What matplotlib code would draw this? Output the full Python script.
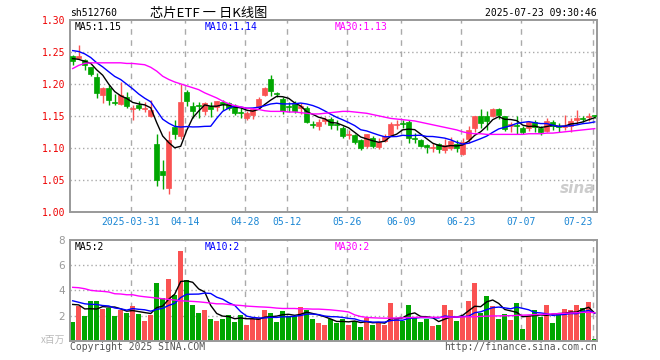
import numpy as np
import pandas as pd
import matplotlib
matplotlib.use("Agg")
import matplotlib.pyplot as plt

W, H = 660, 360

# daily candles, 2025-03-17 .. 2025-07-23 (88 trading days)
opens = [1.243, 1.241, 1.237, 1.226, 1.211, 1.183, 1.193, 1.1715, 1.168, 1.180,
         1.161, 1.1665, 1.161, 1.149, 1.106, 1.064, 1.037, 1.133, 1.119, 1.188,
         1.166, 1.166, 1.157, 1.166, 1.164, 1.171, 1.170, 1.165, 1.1565, 1.146,
         1.1515, 1.164, 1.183, 1.207, 1.186, 1.177, 1.166, 1.168, 1.162, 1.163,
         1.137, 1.1347, 1.142, 1.145, 1.137, 1.1316, 1.120, 1.120, 1.1117, 1.1033,
         1.116, 1.101, 1.1107, 1.120, 1.136, 1.139, 1.141, 1.115, 1.112, 1.1035,
         1.100, 1.1055, 1.096, 1.100, 1.1055, 1.091, 1.113, 1.1306, 1.1495, 1.1495,
         1.1505, 1.160, 1.1495, 1.1348, 1.1348, 1.1317, 1.1306, 1.141, 1.1306, 1.1264,
         1.140, 1.1338, 1.1327, 1.1348, 1.1432, 1.1463, 1.1485, 1.1516]
highs = [1.245, 1.261, 1.2385, 1.227, 1.2175, 1.1955, 1.1975, 1.1835, 1.203, 1.187,
         1.167, 1.1735, 1.171, 1.1755, 1.122, 1.081, 1.127, 1.144, 1.200, 1.190,
         1.172, 1.171, 1.171, 1.171, 1.173, 1.1755, 1.171, 1.168, 1.163, 1.157,
         1.163, 1.179, 1.1945, 1.2145, 1.188, 1.179, 1.1715, 1.1725, 1.170, 1.166,
         1.142, 1.145, 1.148, 1.148, 1.144, 1.1337, 1.1274, 1.121, 1.1138, 1.122,
         1.118, 1.115, 1.122, 1.140, 1.144, 1.144, 1.144, 1.123, 1.114, 1.1065,
         1.1075, 1.1075, 1.113, 1.117, 1.112, 1.115, 1.134, 1.1505, 1.160, 1.157,
         1.163, 1.163, 1.150, 1.140, 1.1495, 1.1338, 1.142, 1.143, 1.1338, 1.1463,
         1.143, 1.139, 1.152, 1.1463, 1.159, 1.1495, 1.1537, 1.152]
lows = [1.230, 1.2385, 1.222, 1.212, 1.178, 1.170, 1.1667, 1.167, 1.167, 1.162,
        1.144, 1.159, 1.156, 1.148, 1.041, 1.036, 1.028, 1.113, 1.114, 1.165,
        1.147, 1.146, 1.1515, 1.148, 1.158, 1.159, 1.159, 1.1515, 1.147, 1.143,
        1.1445, 1.163, 1.181, 1.181, 1.180, 1.1535, 1.1557, 1.1547, 1.1536, 1.139,
        1.1316, 1.1274, 1.1368, 1.130, 1.128, 1.115, 1.1138, 1.1064, 1.097, 1.100,
        1.099, 1.098, 1.1096, 1.119, 1.1296, 1.1317, 1.1075, 1.1075, 1.101, 1.092,
        1.094, 1.092, 1.092, 1.097, 1.094, 1.0887, 1.1075, 1.1243, 1.1306, 1.1285,
        1.1485, 1.1453, 1.1264, 1.1243, 1.121, 1.122, 1.1264, 1.1243, 1.120, 1.1243,
        1.1275, 1.1254, 1.1285, 1.1243, 1.138, 1.141, 1.142, 1.1463]
closes = [1.236, 1.244, 1.229, 1.215, 1.186, 1.194, 1.1745, 1.1705, 1.182, 1.165,
          1.163, 1.163, 1.163, 1.159, 1.049, 1.058, 1.112, 1.122, 1.171, 1.1725,
          1.157, 1.165, 1.170, 1.161, 1.1725, 1.168, 1.1625, 1.1545, 1.155, 1.1545,
          1.160, 1.1767, 1.193, 1.189, 1.184, 1.157, 1.164, 1.157, 1.165, 1.140,
          1.136, 1.141, 1.145, 1.136, 1.136, 1.118, 1.121, 1.1096, 1.100, 1.121,
          1.1033, 1.1096, 1.118, 1.138, 1.138, 1.137, 1.115, 1.114, 1.103, 1.102,
          1.102, 1.098, 1.1045, 1.111, 1.099, 1.1096, 1.1285, 1.1495, 1.139, 1.142,
          1.161, 1.1516, 1.1296, 1.137, 1.1337, 1.1254, 1.141, 1.1327, 1.1254, 1.142,
          1.1348, 1.1327, 1.1347, 1.142, 1.1474, 1.1453, 1.1505, 1.1505]
# volume, millions of shares
volumes = [1.52, 2.72, 2.00, 3.17, 3.17, 2.48, 2.56, 2.00, 2.45, 2.24,
           2.72, 2.16, 1.60, 2.08, 4.56, 3.36, 4.88, 3.60, 7.12, 4.80,
           2.80, 2.24, 2.40, 1.76, 1.60, 1.76, 2.08, 1.52, 2.08, 1.28,
           1.76, 1.84, 2.40, 2.24, 1.52, 2.32, 2.00, 2.00, 2.64, 2.40,
           1.76, 1.44, 1.28, 1.73, 1.44, 1.76, 1.28, 1.60, 1.12, 1.84,
           1.28, 1.44, 1.28, 2.96, 1.84, 1.60, 2.80, 1.84, 1.52, 1.76,
           1.20, 1.28, 2.80, 2.40, 1.60, 2.00, 3.12, 4.56, 2.24, 3.52,
           2.72, 1.76, 2.16, 1.68, 2.96, 0.96, 2.00, 2.40, 1.92, 2.80,
           1.44, 2.24, 2.48, 2.40, 2.80, 2.56, 3.04, 0.16]

# 30-day averages as drawn (their window reaches before the visible range)
ma30_price = [1.224, 1.229, 1.232, 1.233, 1.233, 1.233, 1.233, 1.233, 1.233, 1.232,
              1.232, 1.231, 1.230, 1.226, 1.220, 1.212, 1.207, 1.203, 1.200, 1.197,
              1.194, 1.191, 1.186, 1.182, 1.178, 1.173, 1.169, 1.166, 1.164, 1.162,
              1.161, 1.160, 1.158, 1.157, 1.157, 1.157, 1.156, 1.156, 1.155, 1.154,
              1.153, 1.153, 1.154, 1.155, 1.156, 1.157, 1.157, 1.156, 1.155, 1.154,
              1.152, 1.150, 1.148, 1.146, 1.145, 1.144, 1.143, 1.142, 1.140, 1.138,
              1.136, 1.134, 1.132, 1.130, 1.128, 1.125, 1.123, 1.122, 1.122, 1.121,
              1.121, 1.121, 1.121, 1.121, 1.121, 1.121, 1.122, 1.122, 1.122, 1.123,
              1.123, 1.124, 1.125, 1.126, 1.127, 1.128, 1.129, 1.130]
ma30_vol = [4.24, 4.21, 4.13, 4.00, 3.95, 3.92, 3.87, 3.73, 3.71, 3.65,
            3.65, 3.55, 3.49, 3.44, 3.39, 3.33, 3.28, 3.23, 3.17, 3.15,
            3.12, 3.09, 3.04, 2.99, 2.93, 2.93, 2.88, 2.83, 2.80, 2.75,
            2.72, 2.69, 2.67, 2.64, 2.59, 2.56, 2.56, 2.56, 2.53, 2.53,
            2.51, 2.51, 2.48, 2.45, 2.40, 2.35, 2.28, 2.05, 1.92, 1.85,
            1.82, 1.80, 1.79, 1.79, 1.80, 1.82, 1.84, 1.85, 1.86, 1.86,
            1.86, 1.86, 1.87, 1.88, 1.88, 1.89, 1.90, 1.90, 1.93, 1.95,
            1.97, 1.97, 1.98, 1.99, 2.01, 2.03, 2.05, 2.07, 2.09, 2.11,
            2.13, 2.15, 2.18, 2.20, 2.22, 2.25, 2.26, 2.22]

# days just before the window, estimated from where MA5/MA10 start
prior_close = [1.258, 1.266, 1.272, 1.268, 1.259, 1.250, 1.244, 1.231, 1.237]
prior_vol = [3.9, 3.2, 3.6, 3.3, 3.3, 2.9, 3.6, 3.1, 3.28]

tick_idx = [10, 19, 29, 36, 46, 55, 65, 75, 87]
tick_labels = ['2025-03-31', '04-14', '04-28', '05-12', '05-26',
               '06-09', '06-23', '07-07', '07-23']

RED = '#fa5252'
GREEN = '#00a600'
GRID = '#aaaaaa'
MONO = 'DejaVu Sans Mono'


def rolling(prior, values, n):
    s = pd.Series(prior + values).rolling(n).mean()
    return s.iloc[len(prior):].to_numpy()


ma5 = rolling(prior_close, closes, 5)
ma10 = rolling(prior_close, closes, 10)
vma5 = rolling(prior_vol, volumes, 5)
vma10 = rolling(prior_vol, volumes, 10)

x = np.arange(len(closes))
o = np.array(opens)
c = np.array(closes)
up = c >= o
colors = [RED if u else GREEN for u in up]


def px_rect(l, t, r, b):
    return [l / W, 1 - b / H, (r - l) / W, (b - t) / H]


fig = plt.figure(figsize=(W / 100, H / 100), dpi=100)
fig.patch.set_facecolor('white')
ax = fig.add_axes(px_rect(70.3, 20, 596.7, 211.7))
axv = fig.add_axes(px_rect(70.3, 240, 596.7, 340.7))

grid_x = np.array(tick_idx) - 0.35
for a in (ax, axv):
    a.set_xlim(-0.4, 87.33)
    for s in a.spines.values():
        s.set_color('#999999')
        s.set_linewidth(1.4)
    for gx in grid_x:
        a.axvline(gx, color=GRID, lw=1, ls=(0, (4, 4)), zorder=0)

# --- price panel ---
ax.set_ylim(1.0, 1.30)
for lvl in [1.05, 1.10, 1.15, 1.20, 1.25]:
    ax.axhline(lvl, color=GRID, lw=1, ls=(0, (1, 2)), zorder=0)

ax.vlines(x, lows, highs, colors=colors, lw=1, zorder=2)
body_lo = np.minimum(o, c)
body_h = np.maximum(np.abs(c - o), 0.0016)
ax.bar(x, body_h, bottom=body_lo, width=0.78, color=colors,
       edgecolor=colors, linewidth=0.5, zorder=3)

ax.plot(x, ma5, color='black', lw=1, zorder=4)
ax.plot(x, ma10, color='#0000ff', lw=1, zorder=4)
ax.plot(x, ma30_price, color='#ff00ff', lw=1, zorder=4)

ax.set_yticks([1.00, 1.05, 1.10, 1.15, 1.20, 1.25, 1.30])
ax.set_yticklabels([f"{v:.2f}" for v in ax.get_yticks()],
                   color='#ee0000', fontsize=7, family=MONO)
ax.set_xticks(grid_x)
ax.set_xticklabels(tick_labels, color='#1a86d4', fontsize=7, family=MONO)
ax.get_xticklabels()[-1].set_horizontalalignment('right')
ax.tick_params(length=0, pad=3.5)

ax.text(0.997, 0.08, 'sina', transform=ax.transAxes, ha='right', va='bottom',
        fontsize=11, fontweight='bold', style='italic', color='#cccccc', zorder=1)

# --- volume panel ---
axv.set_ylim(0, 8)
for lvl in [2, 4, 6]:
    axv.axhline(lvl, color=GRID, lw=1, ls=(0, (1, 2)), zorder=0)
axv.bar(x, volumes, width=0.8, color=colors, zorder=2)
axv.plot(x, vma5, color='black', lw=1, zorder=4)
axv.plot(x, vma10, color='#0000ff', lw=1, zorder=4)
axv.plot(x, ma30_vol, color='#ff00ff', lw=1, zorder=4)
axv.set_yticks([2, 4, 6, 8])
axv.set_yticklabels(['2', '4', '6', '8'], color='#999999', fontsize=7.5)
axv.set_xticks([])
axv.tick_params(length=0, pad=4)


def ftext(px, py, s, **kw):
    fig.text(px / W, 1 - py / H, s, **kw)


ftext(70, 13, 'sh512760', fontsize=7, family=MONO, va='center', ha='left')
ftext(209, 13, '芯片ETF 一 日K线图', fontsize=9.5,
      family=['Noto Sans CJK SC', 'DejaVu Sans'], va='center', ha='center')
ftext(597, 13, '2025-07-23 09:30:46', fontsize=7, family=MONO, va='center', ha='right')

ftext(75, 26.5, f"MA5:{ma5[-1]:.2f}", fontsize=7, family=MONO, va='center', color='black')
ftext(205, 26.5, f"MA10:{ma10[-1]:.2f}", fontsize=7, family=MONO, va='center', color='#0000ff')
ftext(335, 26.5, f"MA30:{ma30_price[-1]:.2f}", fontsize=7, family=MONO, va='center', color='#ff00ff')

ftext(75, 246.5, f"MA5:{vma5[-1]:.0f}", fontsize=7, family=MONO, va='center', color='black')
ftext(205, 246.5, f"MA10:{vma10[-1]:.0f}", fontsize=7, family=MONO, va='center', color='#0000ff')
ftext(335, 246.5, f"MA30:{ma30_vol[-1]:.0f}", fontsize=7, family=MONO, va='center', color='#ff00ff')

ftext(65, 340, 'x百万', fontsize=7, family=['Noto Sans CJK SC', 'DejaVu Sans'],
      va='center', ha='right', color='#bbbbbb')
ftext(70, 347, 'Copyright 2025 SINA.COM', fontsize=7, family=MONO,
      va='center', ha='left', color='#555555')
ftext(597, 347, 'http://finance.sina.com.cn', fontsize=7, family=MONO,
      va='center', ha='right', color='#555555')

fig.savefig('out.png', dpi=100, facecolor='white')
